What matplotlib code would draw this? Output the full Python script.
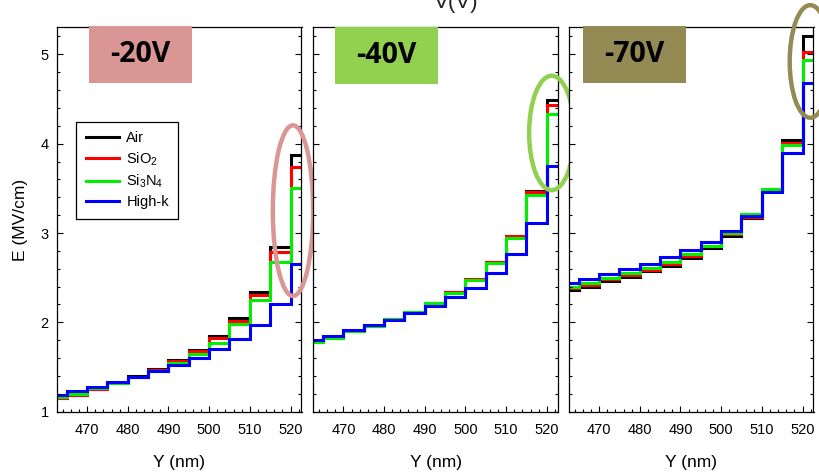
import matplotlib
matplotlib.use("Agg")
import matplotlib.pyplot as plt
from matplotlib.patches import Ellipse, Rectangle
from matplotlib.ticker import MultipleLocator

plt.rcParams["font.family"] = ["Liberation Sans", "DejaVu Sans"]
plt.rcParams["mathtext.fontset"] = "custom"
plt.rcParams["mathtext.rm"] = "Liberation Sans"
plt.rcParams["mathtext.default"] = "regular"

# Step edges along Y (nm); each value spans one interval
y_edges = [462.6, 465, 470, 475, 480, 485, 490, 495, 500, 505, 510, 515, 520, 522.7]

series_names = ["Air", "SiO$_2$", "Si$_3$N$_4$", "High-k"]
series_colors = ["#000000", "#ff0000", "#00ee00", "#0000ff"]

# -20 V
e20_air   = [1.15, 1.19, 1.25, 1.32, 1.40, 1.48, 1.58, 1.69, 1.85, 2.05, 2.34, 2.84, 3.87]
e20_sio2  = [1.15, 1.19, 1.25, 1.32, 1.39, 1.47, 1.57, 1.68, 1.82, 2.02, 2.31, 2.79, 3.74]
e20_si3n4 = [1.16, 1.20, 1.26, 1.325, 1.39, 1.46, 1.55, 1.65, 1.77, 1.98, 2.245, 2.675, 3.50]
e20_highk = [1.19, 1.23, 1.28, 1.335, 1.39, 1.45, 1.52, 1.605, 1.70, 1.81, 1.965, 2.21, 2.65]

# -40 V
e40_air   = [1.78, 1.83, 1.90, 1.96, 2.04, 2.12, 2.22, 2.345, 2.49, 2.68, 2.97, 3.47, 4.49]
e40_sio2  = [1.78, 1.83, 1.90, 1.96, 2.04, 2.12, 2.22, 2.345, 2.49, 2.68, 2.97, 3.46, 4.43]
e40_si3n4 = [1.78, 1.83, 1.90, 1.96, 2.04, 2.12, 2.215, 2.33, 2.47, 2.665, 2.94, 3.42, 4.33]
e40_highk = [1.80, 1.85, 1.91, 1.965, 2.03, 2.10, 2.185, 2.28, 2.39, 2.55, 2.77, 3.11, 3.75]

# -70 V
e70_air   = [2.36, 2.40, 2.46, 2.51, 2.57, 2.63, 2.72, 2.83, 2.97, 3.17, 3.49, 4.04, 5.21]
e70_sio2  = [2.38, 2.42, 2.48, 2.53, 2.59, 2.65, 2.74, 2.85, 2.985, 3.18, 3.48, 4.01, 5.03]
e70_si3n4 = [2.40, 2.44, 2.50, 2.555, 2.61, 2.68, 2.76, 2.86, 3.00, 3.21, 3.49, 3.98, 4.94]
e70_highk = [2.44, 2.485, 2.54, 2.595, 2.65, 2.73, 2.805, 2.90, 3.02, 3.186, 3.46, 3.89, 4.68]

panel_data = [
    [e20_air, e20_sio2, e20_si3n4, e20_highk],
    [e40_air, e40_sio2, e40_si3n4, e40_highk],
    [e70_air, e70_sio2, e70_si3n4, e70_highk],
]
panel_tags = ["-20V", "-40V", "-70V"]
tag_colors = ["#d99694", "#92d050", "#948a54"]
x_ticks = [470, 480, 490, 500, 510, 520]

# Highlight ellipses: centre (nm, MV/cm), width (nm), height (MV/cm)
ellipse_specs = [
    (520.6, 3.25, 9.9, 1.91),
    (521.2, 4.12, 11.1, 1.28),
    (521.9, 4.92, 10.1, 1.26),
]

W, H = 820, 473
fig = plt.figure(figsize=(W / 100, H / 100), dpi=100)

lefts = [57, 313.3, 569]
ax_w = 244.5
top_px, bot_px = 27.5, 411.7

axes = []
for i, (left, series, tag, tcol, ell) in enumerate(
        zip(lefts, panel_data, panel_tags, tag_colors, ellipse_specs)):
    ax = fig.add_axes([left / W, (H - bot_px) / H, ax_w / W, (bot_px - top_px) / H])
    axes.append(ax)
    for vals, name, col in zip(series, series_names, series_colors):
        ax.stairs(vals, y_edges, color=col, lw=2.2, label=name, baseline=None)
    ax.set_xlim(462.6, 522.7)
    ax.set_ylim(1, 5.3)
    ax.set_xticks(x_ticks)
    ax.xaxis.set_minor_locator(MultipleLocator(2))
    ax.yaxis.set_major_locator(MultipleLocator(1))
    ax.yaxis.set_minor_locator(MultipleLocator(0.2))
    ax.tick_params(which="both", direction="in", left=True, right=True,
                   bottom=True, top=False, labelsize=10.5)
    ax.tick_params(axis="x", pad=8)
    ax.tick_params(axis="y", pad=6)
    ax.tick_params(which="major", length=4, width=0.8)
    ax.tick_params(which="minor", length=2.5, width=0.8)
    if i > 0:
        ax.tick_params(labelleft=False)
    for sp in ax.spines.values():
        sp.set_linewidth(0.9)
    ax.set_xlabel("Y (nm)", fontsize=12.5, labelpad=13)

    # highlight ring
    cx, cy, ew, eh = ell
    ax.add_patch(Ellipse((cx, cy), ew, eh, fill=False, edgecolor=tcol,
                         lw=3.2, clip_on=False, zorder=10))

axes[0].set_ylabel("E (MV/cm)", fontsize=12.5, labelpad=9)

leg = axes[0].legend(loc="upper left", bbox_to_anchor=(0.078, 0.755),
                     borderaxespad=0, fontsize=10.5, frameon=True, fancybox=False,
                     edgecolor="black", framealpha=1, handlelength=2.3,
                     handletextpad=0.5, labelspacing=0.35, borderpad=0.65)
leg.get_frame().set_linewidth(0.9)

# Voltage tags
tag_boxes = [(89, 26, 192, 82.7), (335, 27.3, 437.7, 83.7), (583, 26, 685.7, 82.7)]
for (x0, y0, x1, y1), tag, tcol in zip(tag_boxes, panel_tags, tag_colors):
    fig.patches.append(Rectangle((x0 / W, (H - y1) / H), (x1 - x0) / W, (y1 - y0) / H,
                                 transform=fig.transFigure, facecolor=tcol,
                                 edgecolor="none", zorder=20))
    fig.text((x0 + x1) / 2 / W, (H - (y0 + y1) / 2) / H, tag, ha="center", va="center",
             fontsize=20.5, fontweight="bold", family=["Open Sans", "DejaVu Sans"],
             zorder=21)

fig.text(456 / W, (H - 8) / H, "V(V)", ha="center", va="baseline", fontsize=16,
         color="#222222")

fig.savefig("out.png", dpi=100)
